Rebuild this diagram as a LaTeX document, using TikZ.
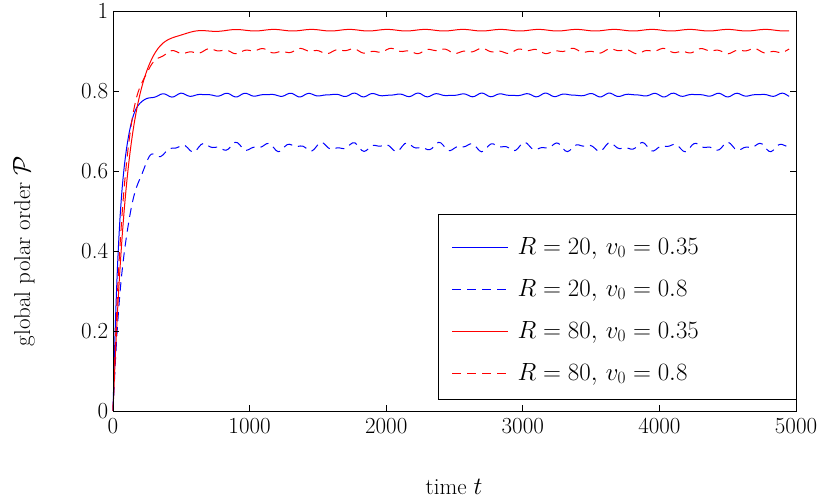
\documentclass[tikz,border=0pt]{standalone}
\begin{document}
\begin{tikzpicture}[x=1pt,y=1pt,font=\fontsize{23}{27}\selectfont,
  bl/.style={blue,line width=1pt},
  rd/.style={red,line width=1pt},
  dsh/.style={dash pattern=on 9pt off 6pt},
  bld/.style={bl,dsh},
  rdd/.style={rd,dsh}]
\useasboundingbox (0,0) rectangle (831,501);
\begin{scope}[shift={(113,90)},x=13.66pt,y=400pt]
  % curves (t in hundreds)
  \draw[bl] plot[domain=0:49.5,samples=300,smooth] (\x,{0.79*(1-exp(-min(\x/0.55,20)))+0.003*sin(\x*230)+0.002*sin(\x*310)});
  \draw[bld] plot[domain=0:49.5,samples=300,smooth] (\x,{0.66*(1-exp(-min(\x/0.9,20)))+0.007*sin(\x*170)+0.005*sin(\x*290)});
  \draw[rd] plot[domain=0:49.5,samples=300,smooth] (\x,{0.952*(1-exp(-min(\x/1.1,20)))+0.002*sin(\x*130)});
  \draw[rdd] plot[domain=0:49.5,samples=300,smooth] (\x,{0.90*(1-exp(-min(\x/0.85,20)))+0.004*sin(\x*110)+0.003*sin(\x*270)});
  % frame
  \draw[line width=0.8pt] (0,0) rectangle (50,1);
  \foreach \t in {0,1000,2000,3000,4000,5000}{
    \draw[line width=0.8pt] (\t/100,0) -- ++(0,6pt) (\t/100,1) -- ++(0,-6pt);
    \node[anchor=north] at (\t/100,-0.01) {\t};}
  \foreach \p/\l in {0/0,0.2/0.2,0.4/0.4,0.6/0.6,0.8/0.8,1/1}{
    \draw[line width=0.8pt] (0,\p) -- ++(6pt,0) (50,\p) -- ++(-6pt,0);
    \node[anchor=east] at (-0.1,\p) {\l};}
\end{scope}
\node (xl) at (454,14) {time $t$};
\node[rotate=90] (yl) at (24,250) {global polar order $\mathcal{P}$};
% legend
\node[draw,line width=0.8pt,fill=white,minimum width=358pt,minimum height=185pt] (leg) at (617,194.5) {};
\foreach \yy/\st/\txt in {253/bl/{$R=20,\,v_0=0.35$},211/bld/{$R=20,\,v_0=0.8$},169/rd/{$R=80,\,v_0=0.35$},127/rdd/{$R=80,\,v_0=0.8$}}{
  \draw[\st] (452,\yy) -- (508,\yy);
  \node[anchor=west] at (514,\yy) {\txt};}
\end{tikzpicture}
\end{document}
